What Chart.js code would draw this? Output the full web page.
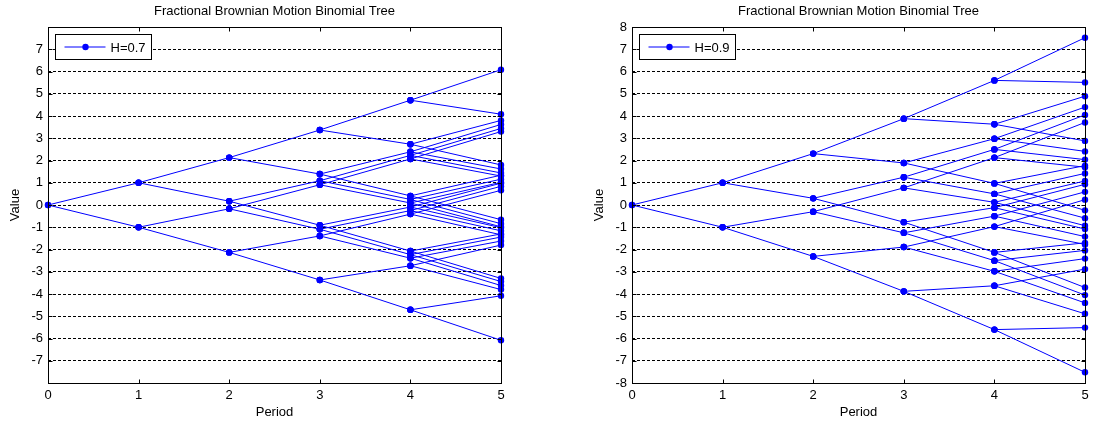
<!DOCTYPE html>
<html>
<head>
<meta charset="utf-8">
<title>Fractional Brownian Motion Binomial Tree</title>
<script src="https://cdn.jsdelivr.net/npm/chart.js@4.4.1/dist/chart.umd.min.js"></script>
<style>
  body { margin: 0; background: #fff; }
  .panel { position: absolute; top: 0; width: 547px; height: 424px; }
  #leftPanel { left: 0; }
  #rightPanel { left: 547px; }
</style>
</head>
<body>
<div class="panel" id="leftPanel"><canvas id="treeLeft" width="547" height="424"></canvas></div>
<div class="panel" id="rightPanel"><canvas id="treeRight" width="547" height="424"></canvas></div>
<script>
// Periods and axis ticks
const periods = [0, 1, 2, 3, 4, 5];
const yTicksLeft = [-7, -6, -5, -4, -3, -2, -1, 0, 1, 2, 3, 4, 5, 6, 7];
const yTicksRight = [-8, -7, -6, -5, -4, -3, -2, -1, 0, 1, 2, 3, 4, 5, 6, 7, 8];
const chartTitle = 'Fractional Brownian Motion Binomial Tree';
const seriesNames = ['H=0.7', 'H=0.9'];

// Node values for H=0.7, per period (node i goes to nodes 2i and 2i+1 next period)
const h07Period0 = [0];
const h07Period1 = [1, -1];
const h07Period2 = [2.13, 0.17, -0.17, -2.13];
const h07Period3 = [3.37, 1.39, 1.09, -0.91, 0.91, -1.09, -1.39, -3.37];
const h07Period4 = [4.71, 2.73, 2.39, 0.41, 2.23, 0.25, -0.09, -2.07,
                    2.07, 0.09, -0.25, -2.23, -0.41, -2.39, -2.73, -4.71];
const h07Period5 = [6.08, 4.08, 3.80, 1.80, 3.62, 1.62, 1.34, -0.66,
                    3.44, 1.44, 1.16, -0.84, 0.98, -1.02, -1.30, -3.30,
                    3.30, 1.30, 1.02, -0.98, 0.84, -1.16, -1.44, -3.44,
                    0.66, -1.34, -1.62, -3.62, -1.80, -3.80, -4.08, -6.08];

// Node values for H=0.9
const h09Period0 = [0];
const h09Period1 = [1, -1];
const h09Period2 = [2.31, 0.30, -0.30, -2.31];
const h09Period3 = [3.88, 1.89, 1.25, -0.77, 0.77, -1.25, -1.89, -3.88];
const h09Period4 = [5.60, 3.63, 2.98, 0.97, 2.50, 0.50, -0.12, -2.13,
                    2.13, 0.12, -0.50, -2.50, -0.97, -2.98, -3.63, -5.60];
const h09Period5 = [7.52, 5.51, 4.89, 2.88, 4.40, 2.41, 1.77, -0.24,
                    4.05, 2.04, 1.42, -0.59, 0.93, -1.08, -1.70, -3.71,
                    3.71, 1.70, 1.08, -0.93, 0.59, -1.42, -2.04, -4.05,
                    0.24, -1.77, -2.41, -4.40, -2.88, -4.89, -5.51, -7.52];

const FONT = 'Liberation Sans, Arial, Helvetica, sans-serif';
const BLUE = '#0000ff';

// Build the tree edges as one line with gaps between segments
function buildEdges(levels) {
  const pts = [];
  for (let t = 0; t < levels.length - 1; t++) {
    levels[t].forEach((v, i) => {
      [2 * i, 2 * i + 1].forEach(c => {
        pts.push({ x: periods[t], y: v });
        pts.push({ x: periods[t + 1], y: levels[t + 1][c] });
        pts.push({ x: periods[t + 1], y: null });
      });
    });
  }
  return pts;
}

// Frame, inward ticks, title and legend box (MATLAB look)
const framePlugin = {
  id: 'frame',
  afterDraw(chart) {
    const ctx = chart.ctx;
    const a = chart.chartArea;
    const xs = chart.scales.x;
    const ys = chart.scales.y;
    const l = Math.round(a.left) + 0.5, r = Math.round(a.right) + 0.5;
    const t = Math.round(a.top) + 0.5, b = Math.round(a.bottom) + 0.5;
    ctx.save();
    ctx.strokeStyle = '#000';
    ctx.lineWidth = 1;
    ctx.strokeRect(l, t, r - l, b - t);
    ctx.beginPath();
    periods.forEach(p => {
      const px = Math.round(xs.getPixelForValue(p)) + 0.5;
      ctx.moveTo(px, b); ctx.lineTo(px, b - 4);
      ctx.moveTo(px, t); ctx.lineTo(px, t + 4);
    });
    chart.options.plugins.frame.yTicks.forEach(v => {
      const py = Math.round(ys.getPixelForValue(v)) + 0.5;
      ctx.moveTo(l, py); ctx.lineTo(l + 4, py);
      ctx.moveTo(r, py); ctx.lineTo(r - 4, py);
    });
    ctx.stroke();

    // title
    ctx.fillStyle = '#000';
    ctx.font = '13px ' + FONT;
    ctx.textAlign = 'center';
    ctx.textBaseline = 'middle';
    ctx.fillText(chartTitle, (a.left + a.right) / 2, 11);

    // legend
    const lx = Math.round(a.left) + 7.5, ly = Math.round(a.top) + 7.5;
    ctx.fillStyle = '#fff';
    ctx.fillRect(lx, ly, 96, 25);
    ctx.strokeStyle = '#000';
    ctx.strokeRect(lx, ly, 96, 25);
    const cy = ly + 12.5;
    ctx.strokeStyle = BLUE;
    ctx.beginPath();
    ctx.moveTo(lx + 9, cy); ctx.lineTo(lx + 50, cy);
    ctx.stroke();
    ctx.fillStyle = BLUE;
    ctx.beginPath();
    ctx.arc(lx + 30, cy, 3.2, 0, Math.PI * 2);
    ctx.fill();
    ctx.fillStyle = '#000';
    ctx.textAlign = 'left';
    ctx.fillText(chart.options.plugins.frame.name, lx + 55, cy + 1);
    ctx.restore();
  }
};

function makeTree(canvasId, levels, name, yTicks, padLeft, padRight) {
  const ctx = document.getElementById(canvasId).getContext('2d');
  return new Chart(ctx, {
    type: 'scatter',
    data: {
      datasets: [{
        label: name,
        data: buildEdges(levels),
        showLine: true,
        spanGaps: false,
        borderColor: BLUE,
        borderWidth: 1,
        backgroundColor: BLUE,
        pointRadius: 3.2,
        pointBorderWidth: 0,
        pointHoverRadius: 3.2,
        clip: false
      }]
    },
    options: {
      responsive: false,
      animation: false,
      events: [],
      layout: { padding: { top: 27, left: padLeft, right: padRight, bottom: 0 } },
      plugins: {
        legend: { display: false },
        title: { display: false },
        tooltip: { enabled: false },
        frame: { name: name, yTicks: yTicks }
      },
      scales: {
        x: {
          type: 'linear',
          min: 0,
          max: 5,
          afterFit(scale) { scale.height = 41; },
          afterBuildTicks(scale) { scale.ticks = periods.map(v => ({ value: v })); },
          grid: { display: false, drawTicks: false },
          border: { display: false },
          ticks: { padding: 5, color: '#000', font: { family: FONT, size: 13 } },
          title: {
            display: true,
            text: 'Period',
            color: '#000',
            font: { family: FONT, size: 13 },
            padding: { top: 0, bottom: 4 }
          }
        },
        y: {
          min: -8,
          max: 8,
          afterFit(scale) { scale.width = 48; },
          afterBuildTicks(scale) { scale.ticks = yTicks.map(v => ({ value: v })); },
          grid: {
            drawTicks: false,
            color: c => (Math.abs(c.tick.value) < 8 ? '#000' : 'rgba(0,0,0,0)'),
            lineWidth: 1
          },
          border: { display: false, dash: [3, 2] },
          ticks: { padding: 5, color: '#000', font: { family: FONT, size: 13 } },
          title: {
            display: true,
            text: 'Value',
            color: '#000',
            font: { family: FONT, size: 13 },
            padding: { top: 8, bottom: 0 }
          }
        }
      }
    },
    plugins: [framePlugin]
  });
}

document.addEventListener('DOMContentLoaded', function () {
  makeTree('treeLeft',
    [h07Period0, h07Period1, h07Period2, h07Period3, h07Period4, h07Period5],
    seriesNames[0], yTicksLeft, 0, 46);
  makeTree('treeRight',
    [h09Period0, h09Period1, h09Period2, h09Period3, h09Period4, h09Period5],
    seriesNames[1], yTicksRight, 37, 9);
});
</script>
</body>
</html>
